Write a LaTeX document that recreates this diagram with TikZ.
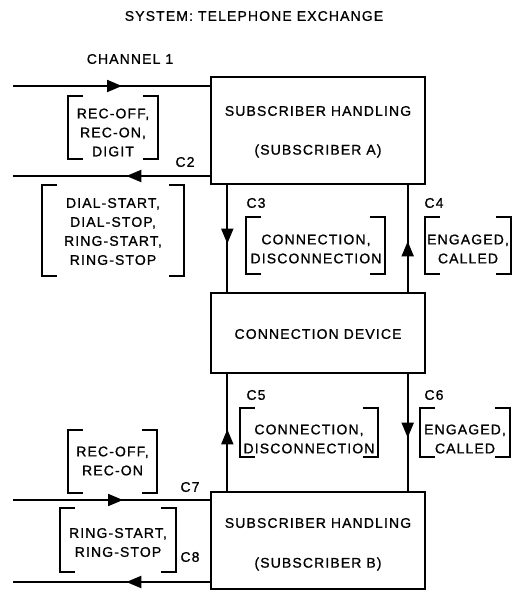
\documentclass[tikz,border=0pt]{standalone}
\usepackage{fontspec}
\setmainfont{Liberation Sans}
\newfontfamily\lsf[LetterSpace=8,FakeBold=1]{Liberation Sans}
\usetikzlibrary{arrows.meta,decorations.markings}
\begin{document}
\begin{tikzpicture}[x=1pt,y=-1pt,
  lbl/.style={font=\lsf\fontsize{14}{19}\selectfont, align=center, inner sep=0pt},
  box/.style={draw, line width=1.4pt, inner sep=0pt, minimum width=214pt},
  conn/.style={line width=2pt},
  vconn/.style={line width=1.7pt},
  brk/.style={line width=2pt},
  brkbox/.style 2 args={inner sep=0pt, minimum width=#1pt, minimum height=#2pt},
  tipat/.style={postaction={decorate}, decoration={markings, mark=at position #1pt with {\arrow{Triangle[length=15pt,width=12pt]}}}},
]
\useasboundingbox (0,0) rectangle (529,591);

\node[lbl] (title) at (254,16) {SYSTEM: TELEPHONE EXCHANGE};
\node[lbl] (ch1) at (130,59) {CHANNEL 1};

% main boxes
\node[box, minimum height=107pt] (A) at (318,130.5) {};
\node[lbl] (A1) at (318,111) {SUBSCRIBER HANDLING};
\node[lbl] (A2) at (318,151) {(SUBSCRIBER A)};
\node[box, minimum height=80pt] (D) at (318,333) {};
\node[lbl] (D1) at (318,334) {CONNECTION DEVICE};
\node[box, minimum height=97pt] (B) at (318,540.5) {};
\node[lbl] (B1) at (318,523) {SUBSCRIBER HANDLING};
\node[lbl] (B2) at (318,564) {(SUBSCRIBER B)};

% bracket regions
\node[brkbox={90}{63}]  (k1) at (113,127.5) {};
\node[brkbox={142}{91}] (k2) at (113,230.5) {};
\node[brkbox={139}{57}] (k3) at (315.5,245.5) {};
\node[brkbox={86}{57}]  (k4) at (468,245.5) {};
\node[brkbox={138}{49}] (k5) at (309,432.5) {};
\node[brkbox={90}{49}]  (k6) at (465,432.5) {};
\node[brkbox={89}{63}]  (k7) at (112.5,461.5) {};
\node[brkbox={116}{64}] (k8) at (118,540) {};
\foreach \n in {k1,k2,k3,k4,k5,k6,k7,k8}{
  \draw[brk] ([xshift=15pt]\n.north west) -- (\n.north west) -- (\n.south west) -- ([xshift=15pt]\n.south west);
  \draw[brk] ([xshift=-15pt]\n.north east) -- (\n.north east) -- (\n.south east) -- ([xshift=-15pt]\n.south east);
}

% bracket texts
\node[lbl] (t1) at (113,132.5) {REC-OFF,\\REC-ON,\\DIGIT};
\node[lbl] (t2) at (113,231.5) {DIAL-START,\\DIAL-STOP,\\RING-START,\\RING-STOP};
\node[lbl] (t3) at (316,249) {CONNECTION,\\DISCONNECTION};
\node[lbl] (t4) at (468,249) {ENGAGED,\\CALLED};
\node[lbl] (t5) at (309,439) {CONNECTION,\\DISCONNECTION};
\node[lbl] (t6) at (465,439) {ENGAGED,\\CALLED};
\node[lbl] (t7) at (112.5,461) {REC-OFF,\\REC-ON};
\node[lbl] (t8) at (118,542.5) {RING-START,\\RING-STOP};

% channel labels
\node[lbl] (c2) at (185,162) {C2};
\node[lbl] (c3) at (256,203) {C3};
\node[lbl] (c4) at (434,203) {C4};
\node[lbl] (c5) at (256,395) {C5};
\node[lbl] (c6) at (434,395) {C6};
\node[lbl] (c7) at (190,487) {C7};
\node[lbl] (c8) at (190,557) {C8};

% connectors
\coordinate (c1s) at (13,86);
\coordinate (c2e) at (13,176);
\coordinate (c7s) at (13,500);
\coordinate (c8e) at (13,582);
\draw[conn, tipat=109] (c1s) -- (c1s -| A.west);
\draw[conn, tipat=84] (c2e -| A.west) -- (c2e);
\draw[vconn, tipat=59] ([xshift=17pt]A.south west) -- ([xshift=17pt]D.north west);
\draw[vconn, tipat=51] ([xshift=-18pt]D.north east) -- ([xshift=-18pt]A.south east);
\draw[vconn, tipat=62] ([xshift=17pt]B.north west) -- ([xshift=17pt]D.south west);
\draw[vconn, tipat=64] ([xshift=-18pt]D.south east) -- ([xshift=-18pt]B.north east);
\draw[conn, tipat=110] (c7s) -- (c7s -| B.west);
\draw[conn, tipat=84] (c8e -| B.west) -- (c8e);
\end{tikzpicture}
\end{document}
